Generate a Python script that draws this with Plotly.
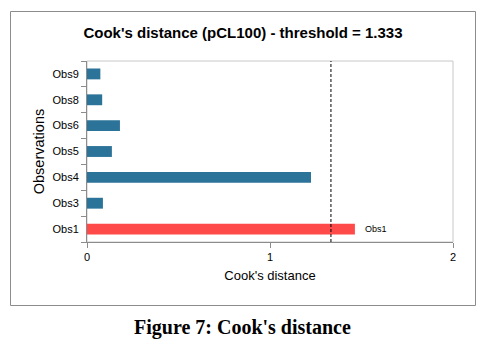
import plotly.graph_objects as go

# Data
observations = ["Obs1", "Obs3", "Obs4", "Obs5", "Obs6", "Obs8", "Obs9"]
cooks_distance = [1.464, 0.087, 1.224, 0.136, 0.180, 0.083, 0.073]
threshold = 1.333
x_ticks = [0, 1, 2]
title_text = "Cook's distance (pCL100) - threshold = 1.333"
caption_text = "Figure 7: Cook's distance"

W, H = 486, 350
L, R, T, B = 87, 453, 61, 242  # plot area in pixels

def px_x(p):
    return (p - L) / (R - L)

def px_y(p):
    return (B - p) / (B - T)

blue = "#2b7398"
red = "#ff4a4a"
colors = [red if v > threshold else blue for v in cooks_distance]

fig = go.Figure()
fig.add_trace(go.Bar(
    x=cooks_distance, y=observations, orientation="h",
    marker=dict(color=colors, line=dict(width=0)),
    hoverinfo="x+y",
))

font_family = "Liberation Sans, Arial, sans-serif"

fig.update_layout(
    width=W, height=H,
    margin=dict(l=L, r=W - R, t=T, b=H - B, pad=0),
    paper_bgcolor="white", plot_bgcolor="white",
    showlegend=False,
    bargap=0.58,
    font=dict(family=font_family, color="#000000", size=11),
    title=dict(text="<b>" + title_text + "</b>", x=0.5, xanchor="center",
               y=1 - 33 / H, yanchor="middle", yref="container",
               font=dict(size=15, family=font_family, color="#000000")),
    xaxis=dict(range=[0, 2], tickvals=x_ticks, ticktext=[str(t) for t in x_ticks],
               showgrid=False, zeroline=False, showline=True, linecolor="#8c8c8c",
               linewidth=1, ticks="outside", ticklen=5, tickcolor="#8c8c8c",
               tickfont=dict(size=11),
               title=dict(text="Cook's distance", font=dict(size=13), standoff=8)),
    yaxis=dict(type="category", categoryorder="array", categoryarray=observations,
               showgrid=False, zeroline=False, showline=True, linecolor="#8c8c8c",
               linewidth=1, ticks="outside", ticklen=5, tickcolor="#8c8c8c",
               tickson="boundaries", tickfont=dict(size=11), ticklabelstandoff=5,
               title=dict(text="Observations", font=dict(size=14.5), standoff=4)),
)

# light frame around plot area
fig.add_shape(type="rect", xref="paper", yref="paper", x0=0, x1=1, y0=0, y1=1,
              line=dict(color="#c8c8c8", width=1), layer="below")
# outer chart border
fig.add_shape(type="rect", xref="paper", yref="paper",
              x0=px_x(10.5), x1=px_x(475.5), y0=px_y(305.5), y1=px_y(11.5),
              line=dict(color="#8c8c8c", width=1), layer="below")
# threshold line
fig.add_shape(type="line", xref="x", yref="paper", x0=threshold, x1=threshold,
              y0=0, y1=1, line=dict(color="#000000", width=1, dash="3px,2px"))

# label for observations above threshold
for obs, v in zip(observations, cooks_distance):
    if v > threshold:
        fig.add_annotation(x=v, y=obs, xref="x", yref="y", text=obs,
                           showarrow=False, xanchor="left", xshift=8,
                           font=dict(size=9, family=font_family, color="#000000"))

# caption
fig.add_annotation(x=px_x(242), y=px_y(327), xref="paper", yref="paper",
                   text="<b>" + caption_text + "</b>", showarrow=False,
                   xanchor="center", yanchor="middle",
                   font=dict(size=20, family="Liberation Serif, Times New Roman, serif",
                             color="#000000"))

fig.write_html("out.html")
